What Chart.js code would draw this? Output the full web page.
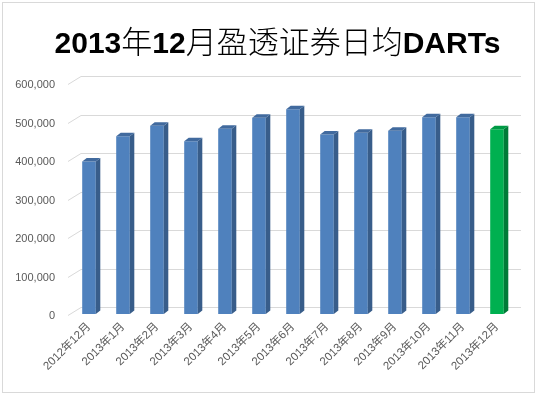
<!DOCTYPE html>
<html>
<head>
<meta charset="utf-8">
<script src="https://cdn.jsdelivr.net/npm/chart.js@4/dist/chart.umd.min.js"></script>
<style>
  html, body { margin: 0; padding: 0; background: #fff; }
  #wrap { position: relative; width: 537px; height: 395px; }
  #c { position: absolute; left: 0; top: 0; }
  #title {
    position: absolute; left: 0; top: 17px; width: 555px; text-align: center;
    white-space: nowrap; line-height: 34px; color: #000;
  }
  #title .lat { font: bold 30px "Liberation Sans", Arial, sans-serif; }
  #title .cjk { font: 300 31px "Noto Sans CJK SC", sans-serif; }
</style>
</head>
<body>
<div id="wrap">
  <canvas id="c" width="537" height="395"></canvas>
  <div id="title"><span class="lat">2013</span><span class="cjk">年</span><span class="lat">12</span><span class="cjk">月盈透证券日均</span><span class="lat">DARTs</span></div>
</div>
<script>
const categories = ['2012年12月','2013年1月','2013年2月','2013年3月','2013年4月','2013年5月','2013年6月','2013年7月','2013年8月','2013年9月','2013年10月','2013年11月','2013年12月'];
const dartsValues = [396000, 462000, 489000, 449000, 481000, 510000, 532000, 466000, 471000, 476000, 511000, 511000, 480000];
const yTickValues = [0, 100000, 200000, 300000, 400000, 500000, 600000];
const chartTitle = '2013年12月盈透证券日均DARTs';

const BLUE = '#4F81BD', BLUE_SIDE = '#385D8A', BLUE_TOP = '#416A9E';
const GREEN = '#00B050', GREEN_SIDE = '#007A37', GREEN_TOP = '#009A45';
const isLast = i => i === categories.length - 1;

const frame = {
  id: 'frame',
  beforeDraw(chart) {
    const ctx = chart.ctx;
    ctx.save();
    ctx.fillStyle = '#fff';
    ctx.fillRect(0, 0, chart.width, chart.height);
    ctx.strokeStyle = '#d9d9d9';
    ctx.lineWidth = 1;
    ctx.strokeRect(2.5, 2.5, 532, 390);
    ctx.restore();
  }
};

const backWall = {
  id: 'backWall',
  beforeDatasetsDraw(chart) {
    const ctx = chart.ctx, a = chart.chartArea, ys = chart.scales.y;
    ctx.save();
    ctx.strokeStyle = '#d9d9d9';
    ctx.lineWidth = 1;
    yTickValues.forEach(v => {
      const py = Math.round(ys.getPixelForValue(v));
      ctx.beginPath();
      ctx.moveTo(a.left - 4, py + 1.5);
      ctx.lineTo(a.left + 9, py - 6.5);
      ctx.lineTo(a.right + 7, py - 6.5);
      ctx.stroke();
    });
    ctx.restore();
  }
};

const bars3d = {
  id: 'bars3d',
  afterDatasetsDraw(chart) {
    const ctx = chart.ctx;
    const meta = chart.getDatasetMeta(0);
    const dx = 4.5, dy = 3.5;
    ctx.save();
    meta.data.forEach((bar, i) => {
      const p = bar.getProps(['x', 'y', 'base', 'width'], true);
      const l = p.x - p.width / 2, r = p.x + p.width / 2;
      ctx.fillStyle = isLast(i) ? GREEN_SIDE : BLUE_SIDE;
      ctx.beginPath();
      ctx.moveTo(r, p.y); ctx.lineTo(r + dx, p.y - dy);
      ctx.lineTo(r + dx, p.base - dy); ctx.lineTo(r, p.base);
      ctx.closePath(); ctx.fill();
      ctx.fillStyle = isLast(i) ? GREEN_TOP : BLUE_TOP;
      ctx.beginPath();
      ctx.moveTo(l, p.y); ctx.lineTo(l + dx, p.y - dy);
      ctx.lineTo(r + dx, p.y - dy); ctx.lineTo(r, p.y);
      ctx.closePath(); ctx.fill();
    });
    ctx.restore();
  }
};

new Chart(document.getElementById('c'), {
  type: 'bar',
  data: {
    labels: categories,
    datasets: [{
      label: chartTitle,
      data: dartsValues,
      backgroundColor: categories.map((c, i) => isLast(i) ? GREEN : BLUE),
      borderWidth: 0,
      categoryPercentage: 1,
      barPercentage: 0.4
    }]
  },
  options: {
    responsive: false,
    devicePixelRatio: 1,
    animation: false,
    layout: { padding: { top: 83, right: 23, left: 0, bottom: 0 } },
    plugins: {
      legend: { display: false },
      title: { display: false },
      tooltip: { enabled: false }
    },
    scales: {
      x: {
        grid: { display: false, drawTicks: false },
        border: { display: false },
        ticks: {
          minRotation: 45, maxRotation: 45, autoSkip: false, padding: 6,
          color: '#595959',
          font: { family: '"Liberation Sans", "Noto Sans CJK SC", sans-serif', size: 11.5 }
        },
        afterFit(s) { s.height = 81; }
      },
      y: {
        min: 0, max: 600000,
        grid: { display: false, drawTicks: false },
        border: { display: false },
        afterBuildTicks(s) { s.ticks = yTickValues.map(v => ({ value: v })); },
        ticks: {
          padding: 17, labelOffset: 2,
          color: '#595959',
          font: { family: '"Liberation Sans", Arial, sans-serif', size: 11 },
          callback: v => Number(v).toLocaleString('en-US')
        },
        afterFit(s) { s.width = 72; }
      }
    }
  },
  plugins: [frame, backWall, bars3d]
});
</script>
</body>
</html>
